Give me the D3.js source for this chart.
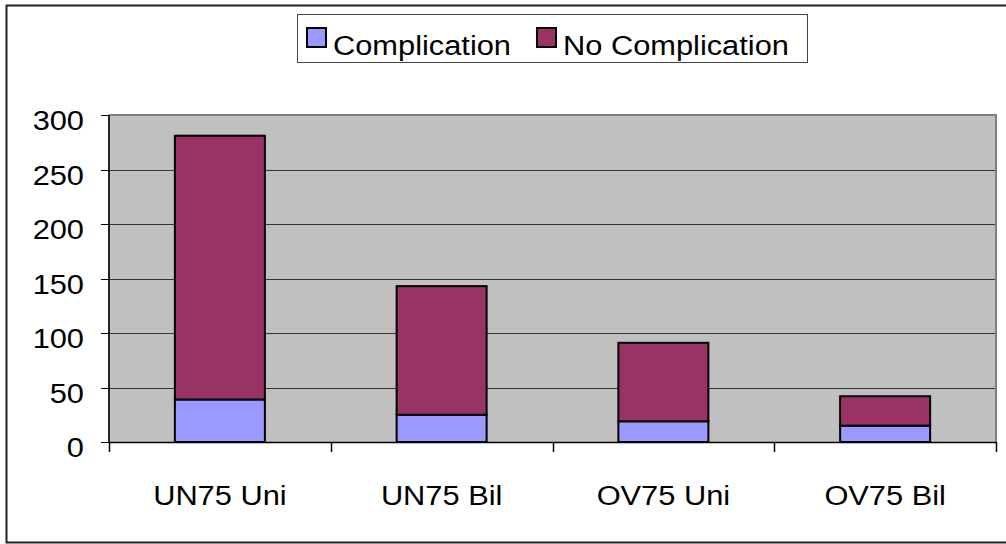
<!DOCTYPE html>
<html>
<head>
<meta charset="utf-8">
<script src="https://cdn.jsdelivr.net/npm/d3@7"></script>
<style>
  body { margin: 0; background: #fff; }
  text { font-family: Arial, "Liberation Sans", sans-serif; fill: #000; }
</style>
</head>
<body>
<div id="chart"></div>
<script>
// Data
const categories = ["UN75 Uni", "UN75 Bil", "OV75 Uni", "OV75 Bil"];
const complication = [39, 25, 19, 15];
const noComplication = [242, 118, 72, 27];
const seriesNames = ["Complication", "No Complication"];
const seriesColors = ["#9999FF", "#993366"];
const yTicks = [0, 50, 100, 150, 200, 250, 300];

// Dimensions
const W = 1006, H = 544;
const plot = { left: 109, top: 115, right: 996, bottom: 442 };
const stretch = 1.1; // text in the reference is a bit wide

const svg = d3.select("#chart").append("svg")
  .attr("width", W).attr("height", H);

// place a text with a horizontal stretch
function putText(sel, tx, ty) {
  return sel.attr("transform", `translate(${tx},${ty}) scale(${stretch},1)`);
}

// Outer chart border (right edge runs off the picture)
svg.append("rect")
  .attr("x", 6.5).attr("y", 5.5)
  .attr("width", 1010).attr("height", 537)
  .attr("fill", "#fff")
  .attr("stroke", "#222").attr("stroke-width", 2);

// Scales
const x = d3.scaleBand().domain(categories).range([plot.left, plot.right]).paddingInner(0).paddingOuter(0);
const y = d3.scaleLinear().domain([0, 300]).range([plot.bottom, plot.top]);

// Plot area
svg.append("rect")
  .attr("x", plot.left).attr("y", plot.top)
  .attr("width", plot.right - plot.left).attr("height", plot.bottom - plot.top)
  .attr("fill", "#C0C0C0");

// Gridlines
svg.selectAll("line.grid")
  .data(yTicks.filter(d => d > 0 && d < 300)).enter().append("line")
  .attr("class", "grid")
  .attr("x1", plot.left).attr("x2", plot.right)
  .attr("y1", d => Math.round(y(d)) + 0.5).attr("y2", d => Math.round(y(d)) + 0.5)
  .attr("stroke", "#333").attr("stroke-width", 1);

// Plot border top and right
svg.append("path")
  .attr("d", `M${plot.left},${plot.top} H${plot.right} V${plot.bottom}`)
  .attr("fill", "none").attr("stroke", "#808080").attr("stroke-width", 2);

// Stacked bars
const stackData = categories.map((c, i) => ({ cat: c, Complication: complication[i], "No Complication": noComplication[i] }));
const series = d3.stack().keys(seriesNames)(stackData);
const barW = 90;

svg.selectAll("g.series")
  .data(series).enter().append("g")
  .attr("class", "series")
  .attr("fill", (d, i) => seriesColors[i])
  .selectAll("rect")
  .data(d => d).enter().append("rect")
  .attr("x", d => x(d.data.cat) + x.bandwidth() / 2 - barW / 2)
  .attr("y", d => y(d[1]))
  .attr("width", barW)
  .attr("height", d => y(d[0]) - y(d[1]))
  .attr("stroke", "#000").attr("stroke-width", 2);

// Y axis
const yAxisG = svg.append("g");
yAxisG.append("line")
  .attr("x1", plot.left).attr("x2", plot.left)
  .attr("y1", plot.top).attr("y2", plot.bottom)
  .attr("stroke", "#222").attr("stroke-width", 2);
yAxisG.selectAll("line.tick")
  .data(yTicks).enter().append("line")
  .attr("x1", plot.left - 8).attr("x2", plot.left)
  .attr("y1", d => Math.round(y(d)) + 0.5).attr("y2", d => Math.round(y(d)) + 0.5)
  .attr("stroke", "#000").attr("stroke-width", 1);
yAxisG.selectAll("text")
  .data(yTicks).enter().append("text")
  .each(function(d) { putText(d3.select(this), 84, y(d) + 15); })
  .attr("text-anchor", "end")
  .style("font-size", "28px")
  .text(d => d);

// X axis
const xAxisG = svg.append("g");
xAxisG.append("line")
  .attr("x1", plot.left).attr("x2", plot.right)
  .attr("y1", plot.bottom + 0.5).attr("y2", plot.bottom + 0.5)
  .attr("stroke", "#000").attr("stroke-width", 1.5);
const bounds = categories.map(c => x(c)).concat([plot.right]);
xAxisG.selectAll("line.tick")
  .data(bounds).enter().append("line")
  .attr("x1", d => Math.round(d) + 0.5).attr("x2", d => Math.round(d) + 0.5)
  .attr("y1", plot.bottom).attr("y2", plot.bottom + 10)
  .attr("stroke", "#000").attr("stroke-width", 1.5);
xAxisG.selectAll("text")
  .data(categories).enter().append("text")
  .each(function(d) { putText(d3.select(this), x(d) + x.bandwidth() / 2, 505); })
  .attr("text-anchor", "middle")
  .style("font-size", "28px")
  .text(d => d);

// Legend
const legend = svg.append("g");
legend.append("rect")
  .attr("x", 297.5).attr("y", 14.5)
  .attr("width", 510).attr("height", 48)
  .attr("fill", "#fff").attr("stroke", "#444").attr("stroke-width", 1);
const legendX = [307, 537];
seriesNames.forEach((name, i) => {
  legend.append("rect")
    .attr("x", legendX[i]).attr("y", 28)
    .attr("width", 19).attr("height", 19)
    .attr("fill", seriesColors[i])
    .attr("stroke", "#000").attr("stroke-width", 2);
  putText(legend.append("text"), legendX[i] + 26, 55)
    .style("font-size", "28px")
    .text(name);
});
</script>
</body>
</html>
